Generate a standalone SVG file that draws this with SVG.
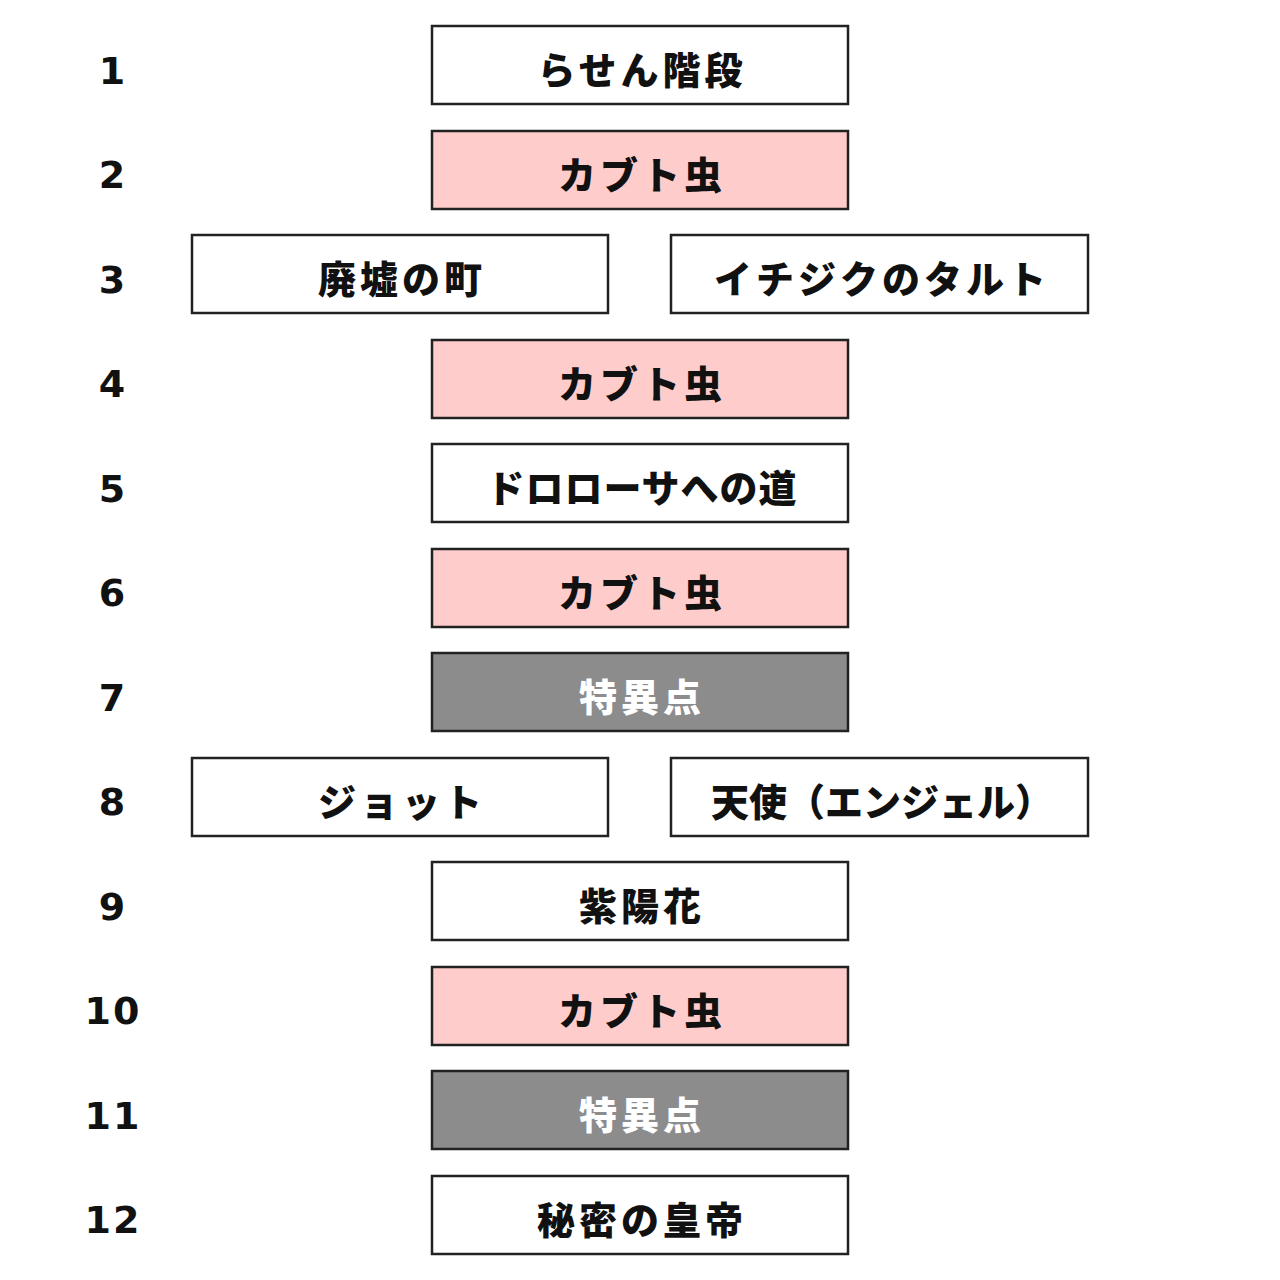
<svg xmlns="http://www.w3.org/2000/svg" width="1280" height="1280" viewBox="0 0 1280 1280">
<style>
.b{stroke:#222;stroke-width:2.5;fill:#fff}
.p{fill:#ffcccc}.g{fill:#8c8c8c}
text{font-family:"Noto Sans CJK JP","Liberation Sans",sans-serif;font-weight:900;font-size:38px;letter-spacing:4px;text-anchor:middle;dominant-baseline:central;fill:#111}
.w{fill:#fff}
.n{font-family:"DejaVu Sans",sans-serif;font-weight:bold;font-size:38px;letter-spacing:2px}
</style>
<rect width="1280" height="1280" fill="#fff"/>
<g id="nums">
<text class="n" x="113" y="71">1</text><text class="n" x="113" y="175">2</text><text class="n" x="113" y="280">3</text><text class="n" x="113" y="384">4</text><text class="n" x="113" y="489">5</text><text class="n" x="113" y="593">6</text><text class="n" x="113" y="698">7</text><text class="n" x="113" y="802">8</text><text class="n" x="113" y="907">9</text><text class="n" x="113" y="1011">10</text><text class="n" x="113" y="1116">11</text><text class="n" x="113" y="1220">12</text>
</g>
<g id="n1"><rect class="b" x="432" y="26" width="416" height="78"/><text x="642" y="67">らせん階段</text></g>
<g id="n2"><rect class="b p" x="432" y="131" width="416" height="78"/><text x="642" y="172">カブト虫</text></g>
<g id="n3a"><rect class="b" x="192" y="235" width="416" height="78"/><text x="402" y="276">廃墟の町</text></g>
<g id="n3b"><rect class="b" x="671" y="235" width="417" height="78"/><text x="882" y="276">イチジクのタルト</text></g>
<g id="n4"><rect class="b p" x="432" y="340" width="416" height="78"/><text x="642" y="381">カブト虫</text></g>
<g id="n5"><rect class="b" x="432" y="444" width="416" height="78"/><text x="642" y="485" style="letter-spacing:1px">ドロローサへの道</text></g>
<g id="n6"><rect class="b p" x="432" y="549" width="416" height="78"/><text x="642" y="590">カブト虫</text></g>
<g id="n7"><rect class="b g" x="432" y="653" width="416" height="78"/><text class="w" x="642" y="694">特異点</text></g>
<g id="n8a"><rect class="b" x="192" y="758" width="416" height="78"/><text x="402" y="799">ジョット</text></g>
<g id="n8b"><rect class="b" x="671" y="758" width="417" height="78"/><text x="882" y="799" style="letter-spacing:0px">天使（エンジェル）</text></g>
<g id="n9"><rect class="b" x="432" y="862" width="416" height="78"/><text x="642" y="903">紫陽花</text></g>
<g id="n10"><rect class="b p" x="432" y="967" width="416" height="78"/><text x="642" y="1008">カブト虫</text></g>
<g id="n11"><rect class="b g" x="432" y="1071" width="416" height="78"/><text class="w" x="642" y="1112">特異点</text></g>
<g id="n12"><rect class="b" x="432" y="1176" width="416" height="78"/><text x="642" y="1217">秘密の皇帝</text></g>
<g id="connectors"/>
</svg>
